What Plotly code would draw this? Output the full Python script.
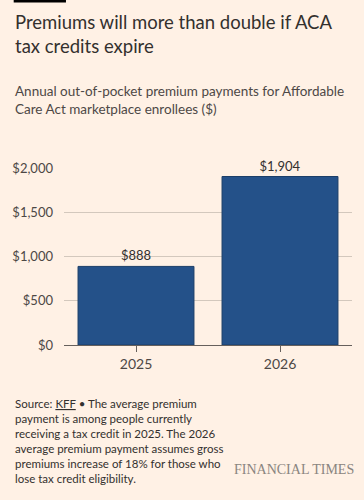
import plotly.graph_objects as go

years = ["2025", "2026"]
payments = [888, 1904]
labels = ["$888", "$1,904"]
tick_vals = [0, 500, 1000, 1500, 2000]
tick_text = ["$0", "$500", "$1,000", "$1,500", "$2,000"]

W, H = 364, 500
L, R, T, B = 60, 12, 168, 155
PW, PH = W - L - R, H - T - B

def px(x):
    return (x - L) / PW

def py(y):
    return (H - B - y) / PH

FONT = "Lato"
DARK = "#33302e"
BG = "#fff1e5"

fig = go.Figure()
fig.add_trace(go.Bar(
    x=years, y=payments, text=labels, textposition="outside",
    textfont=dict(family=FONT, size=13, color=DARK),
    marker=dict(color="#245189", line=dict(color="#1b3e68", width=1)),
    cliponaxis=False, hoverinfo="skip",
))

source_text = ("Source: <u>KFF</u> • The average premium<br>"
               "payment is among people currently<br>"
               "receiving a tax credit in 2025. The 2026<br>"
               "average premium payment assumes gross<br>"
               "premiums increase of 18% for those who<br>"
               "lose tax credit eligibility.")

ann = []
ann.append(dict(text="Premiums will more than double if ACA<br>tax credits expire",
                x=px(8), y=py(9), xanchor="left", yanchor="top", align="left",
                font=dict(family=FONT, size=18.5, color=DARK)))
ann.append(dict(text="Annual out-of-pocket premium payments for Affordable<br>Care Act marketplace enrollees ($)",
                x=px(8), y=py(81), xanchor="left", yanchor="top", align="left",
                font=dict(family=FONT, size=13.5, color="#4d4845")))
ann.append(dict(text=source_text, x=px(8), y=py(395), xanchor="left", yanchor="top",
                align="left", font=dict(family=FONT, size=11.5, color=DARK)))
ann.append(dict(text="FINANCIAL TIMES", x=px(356), y=py(469), xanchor="right", yanchor="middle",
                font=dict(family="Liberation Serif", size=14, color="#8a8580")))
for a in ann:
    a.update(xref="paper", yref="paper", showarrow=False)

fig.update_layout(
    width=W, height=H, margin=dict(l=L, r=R, t=T, b=B),
    paper_bgcolor=BG, plot_bgcolor=BG, showlegend=False, bargap=0.195,
    annotations=ann,
    shapes=[dict(type="rect", xref="paper", yref="paper", x0=px(9), x1=px(62),
                 y0=py(0), y1=py(2.5), fillcolor="#000000", line=dict(width=0))],
    xaxis=dict(type="category", showgrid=False, showline=False, ticks="outside",
               ticklen=6, tickcolor="#66605c", tickwidth=1,
               tickfont=dict(family=FONT, size=14, color="#4d4845"), fixedrange=True),
    yaxis=dict(range=[0, 2000], tickvals=tick_vals, ticktext=tick_text,
               gridcolor="#d3c8bd", gridwidth=1, zeroline=True, zerolinecolor="#66605c",
               zerolinewidth=1, showline=False, ticks="", ticklabelstandoff=10,
               tickfont=dict(family=FONT, size=13, color="#4d4845"), fixedrange=True),
)
fig.write_html("out.html", config={"displayModeBar": False},
               post_script="document.body.style.margin='0';document.body.style.background='#fff1e5';")
